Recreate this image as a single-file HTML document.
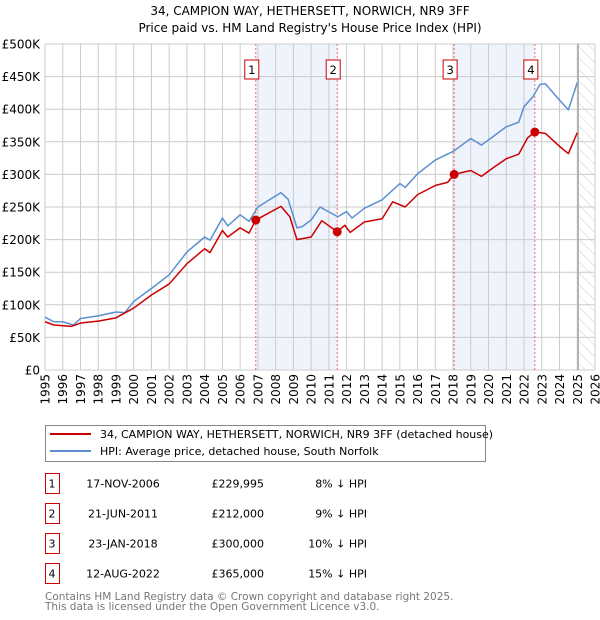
<!DOCTYPE html>
<html><head><meta charset="utf-8"><style>
body{margin:0;background:#fff;}
svg{display:block;font-family:"DejaVu Sans","Liberation Sans",sans-serif;}
</style></head><body>
<svg id="c" width="600" height="620" viewBox="0 0 600 620">
<text x="310" y="15" text-anchor="middle" font-size="12">34, CAMPION WAY, HETHERSETT, NORWICH, NR9 3FF</text>
<text x="310" y="32" text-anchor="middle" font-size="12">Price paid vs. HM Land Registry's House Price Index (HPI)</text>
<g id="plot"></g>
<g>
<rect x="45.5" y="425.5" width="440" height="36" fill="#fff" stroke="#888"/>
<line x1="50" y1="434" x2="91" y2="434" stroke="#cc0000" stroke-width="2"/>
<text x="100" y="438" font-size="11">34, CAMPION WAY, HETHERSETT, NORWICH, NR9 3FF (detached house)</text>
<line x1="50" y1="451" x2="91" y2="451" stroke="#5b8fd0" stroke-width="2"/>
<text x="100" y="455" font-size="11">HPI: Average price, detached house, South Norfolk</text>
</g>
<g id="table" font-size="11"></g>
<text x="45" y="600" font-size="10.5" fill="#777">Contains HM Land Registry data © Crown copyright and database right 2025.</text>
<text x="45" y="610" font-size="10.5" fill="#777">This data is licensed under the Open Government Licence v3.0.</text>
</svg>
<script>
const hpiYears=[1995,1995.5,1996,1996.6,1997,1998,1999,1999.5,2000,2001,2002,2003,2004,2004.3,2005,2005.3,2006,2006.5,2007,2008.3,2008.7,2009.2,2009.5,2010,2010.5,2011.5,2012,2012.3,2013,2014,2015,2015.3,2016,2017,2017.6,2018,2019,2019.6,2020,2021,2021.7,2022,2022.5,2022.9,2023.2,2024,2024.5,2025];
const hpiValues=[81,74,74,69,79,83,89,88,105,125,146,181,204,199,233,221,238,228,250,272,262,218,220,230,250,235,243,233,248,261,286,280,301,322,330,335,355,345,353,373,380,404,419,438,439,414,399,441];
const propYears=[1995,1995.5,1996.5,1997,1998,1999,2000,2001,2002,2003,2004,2004.3,2005,2005.3,2006,2006.5,2006.88,2008.3,2008.8,2009.2,2010,2010.6,2011.47,2011.9,2012.2,2013,2014,2014.6,2015.3,2016,2017,2017.7,2018.06,2019,2019.6,2020.2,2021,2021.7,2022.2,2022.61,2023.2,2024,2024.5,2025];
const propValues=[74,69,67,72,75,80,95,115,132,163,186,180,214,204,218,210,230,251,235,200,204,229,212,222,211,227,232,258,250,269,283,288,300,306,297,309,324,331,356,365,363,343,332,364];
const saleYears=[2006.88,2011.47,2018.06,2022.61];
const saleValues=[229.995,212,300,365];
const saleLabels=["1","2","3","4"];
const saleDates=["17-NOV-2006","21-JUN-2011","23-JAN-2018","12-AUG-2022"];
const salePrices=["£229,995","£212,000","£300,000","£365,000"];
const saleDiffs=["8% ↓ HPI","9% ↓ HPI","10% ↓ HPI","15% ↓ HPI"];
const yTicks=[0,50,100,150,200,250,300,350,400,450,500];
const yTickLabels=["£0","£50K","£100K","£150K","£200K","£250K","£300K","£350K","£400K","£450K","£500K"];
const xTicks=[1995,1996,1997,1998,1999,2000,2001,2002,2003,2004,2005,2006,2007,2008,2009,2010,2011,2012,2013,2014,2015,2016,2017,2018,2019,2020,2021,2022,2023,2024,2025,2026];

const X0=45,X1=595,Y0=370,Y1=44;
const xs=y=>X0+(y-1995)/31*(X1-X0);
const ys=v=>Y0-v/500*(Y0-Y1);
const NS="http://www.w3.org/2000/svg";
const plot=document.getElementById('plot');
function mk(tag,attrs,parent){const e=document.createElementNS(NS,tag);for(const k in attrs)e.setAttribute(k,attrs[k]);(parent||plot).appendChild(e);return e;}

for(let i=0;i<saleYears.length;i+=2){
  const r=mk('rect',{x:xs(saleYears[i]),y:Y1,width:xs(saleYears[i+1])-xs(saleYears[i]),height:Y0-Y1,fill:'#eef3fc'});
  
  
}
const defs=mk('defs',{});
const pat=mk('pattern',{id:'hatch',width:8,height:8,patternUnits:'userSpaceOnUse',patternTransform:'rotate(-45)'},defs);
mk('line',{x1:0,y1:0,x2:0,y2:8,stroke:'#ccc','stroke-width':1},pat);
const hr=mk('rect',{x:xs(2025.05),y:Y1,width:X1-xs(2025.05),height:Y0-Y1,fill:'url(#hatch)'});


yTicks.forEach((t,i)=>{
  const l=mk('line',{x1:X0,x2:X1,y1:ys(t),y2:ys(t),stroke:'#ccc','stroke-width':1});
  
  
  const tx=mk('text',{x:40,y:ys(t)+4.5,'text-anchor':'end','font-size':12});
  tx.textContent=yTickLabels[i];
  
  
});
xTicks.forEach(t=>{
  const l=mk('line',{x1:xs(t),x2:xs(t),y1:Y1,y2:Y0,stroke:'#ccc','stroke-width':1});
  
  
  const tx=mk('text',{x:0,y:0,'text-anchor':'end','font-size':12,transform:`translate(${xs(t)+4.5},374) rotate(-90)`});
  tx.textContent=t;
  
  
});
const ed=mk('line',{x1:xs(2025.05),x2:xs(2025.05),y1:Y1,y2:Y0,stroke:'#999','stroke-width':1.2});


saleYears.forEach((y,i)=>{
  const l=mk('line',{x1:xs(y),x2:xs(y),y1:Y1,y2:Y0,stroke:'#e66','stroke-width':1,'stroke-dasharray':'2,2'});
  
  
  const b=mk('rect',{x:xs(y)-11,y:60,width:14,height:19,fill:'#fff',stroke:'#c00','stroke-width':1});
  
  
  const t=mk('text',{x:xs(y)-4,y:74,'text-anchor':'middle','font-size':11.5});
  t.textContent=saleLabels[i];
  
  
});
const hp=mk('polyline',{points:hpiYears.map((y,i)=>xs(y)+','+ys(hpiValues[i])).join(' '),fill:'none',stroke:'#5b8fd0','stroke-width':1.5,'stroke-linejoin':'round'});


const pp=mk('polyline',{points:propYears.map((y,i)=>xs(y)+','+ys(propValues[i])).join(' '),fill:'none',stroke:'#cc0000','stroke-width':1.5,'stroke-linejoin':'round'});


saleYears.forEach((y,i)=>{
  const c=mk('circle',{cx:xs(y),cy:ys(saleValues[i]),r:4.5,fill:'#cc0000'});
  
  
});
const tb=document.getElementById('table');
saleLabels.forEach((s,i)=>{
  const cy=483+i*30;
  const b=mk('rect',{x:45.5,y:cy-9.5,width:14,height:20,fill:'#fff',stroke:'#c00'},tb);
  
  
  const cells=[[52,s,'middle','table-number'],[123,saleDates[i],'middle','table-date'],[264,salePrices[i],'end','table-price'],[367,saleDiffs[i],'end','table-hpi-diff']];
  cells.forEach(c=>{
    const t=mk('text',{x:c[0],y:cy+4.5,'text-anchor':c[2]},tb);
    t.textContent=c[1];
    
    
  });
});
</script>
</body></html>
